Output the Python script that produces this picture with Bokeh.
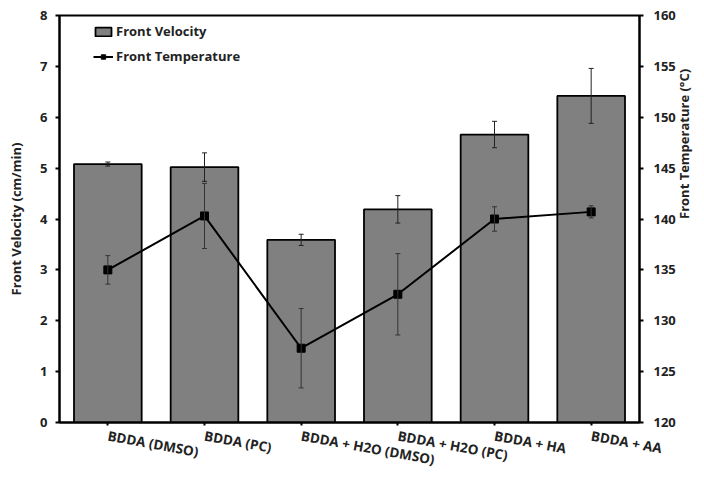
import math
from bokeh.plotting import figure
from bokeh.models import (ColumnDataSource, Range1d, LinearAxis, FixedTicker,
                          Whisker, TeeHead, Legend, LegendItem, FactorRange)
from bokeh.embed import file_html
from bokeh.resources import INLINE

# Formulations tested
categories = ["BDDA (DMSO)", "BDDA (PC)", "BDDA + H2O (DMSO)",
              "BDDA + H2O (PC)", "BDDA + HA", "BDDA + AA"]

# Front velocity (cm/min) with standard deviation
velocity = [5.08, 5.02, 3.59, 4.19, 5.66, 6.42]
velocity_err = [0.04, 0.28, 0.11, 0.27, 0.26, 0.54]

# Front temperature (°C) with standard deviation
temperature = [135.0, 140.3, 127.3, 132.6, 140.0, 140.7]
temperature_err = [1.4, 3.2, 3.9, 4.0, 1.2, 0.6]

FONT = "Open Sans"
TEXT = "#222222"

src = ColumnDataSource(dict(
    cat=categories,
    vel=velocity,
    vel_lo=[v - e for v, e in zip(velocity, velocity_err)],
    vel_hi=[v + e for v, e in zip(velocity, velocity_err)],
    temp=temperature,
    temp_lo=[t - e for t, e in zip(temperature, temperature_err)],
    temp_hi=[t + e for t, e in zip(temperature, temperature_err)],
))

p = figure(width=704, height=480, x_range=FactorRange(*categories, range_padding=0),
           y_range=Range1d(0, 8), output_backend="svg", toolbar_location=None,
           min_border_left=59, min_border_right=63, min_border_top=15,
           min_border_bottom=58)
p.extra_y_ranges = {"temp": Range1d(120, 160)}

p.grid.visible = False
p.outline_line_color = "black"
p.outline_line_width = 2
p.background_fill_color = "white"
p.border_fill_color = "white"

bars = p.vbar(x="cat", top="vel", width=0.70, source=src,
              fill_color="#808080", line_color="black", line_width=1.8)

p.add_layout(Whisker(base="cat", lower="vel_lo", upper="vel_hi", source=src,
                     level="overlay", line_color="#222222", line_width=1,
                     upper_head=TeeHead(size=5, line_color="#222222", line_width=1),
                     lower_head=TeeHead(size=5, line_color="#222222", line_width=1)))

line = p.line(x="cat", y="temp", source=src, y_range_name="temp",
              line_color="black", line_width=2)
marks = p.scatter(x="cat", y="temp", source=src, y_range_name="temp",
                  marker="square", size=8, fill_color="black", line_color="black")

p.add_layout(Whisker(base="cat", lower="temp_lo", upper="temp_hi", source=src,
                     y_range_name="temp", level="overlay",
                     line_color="#333333", line_width=1,
                     upper_head=TeeHead(size=5, line_color="#333333", line_width=1),
                     lower_head=TeeHead(size=5, line_color="#333333", line_width=1)))

right = LinearAxis(y_range_name="temp", axis_label="Front Temperature (°C)",
                   ticker=FixedTicker(ticks=list(range(120, 161, 5))))
p.add_layout(right, "right")
# right-hand title reads bottom to top, like the left one
if "axis_label_orientation" in right.properties():
    right.axis_label_orientation = math.pi / 2

p.yaxis[0].ticker = FixedTicker(ticks=list(range(0, 9)))
p.yaxis[0].axis_label = "Front Velocity (cm/min)"

for ax in p.yaxis + p.xaxis:
    ax.axis_line_color = "black"
    ax.axis_line_width = 2
    ax.major_tick_line_color = "black"
    ax.major_tick_line_width = 2
    ax.major_tick_out = 4
    ax.major_tick_in = 0
    ax.minor_tick_line_color = None
    ax.major_label_text_font = FONT
    ax.major_label_text_font_style = "bold"
    ax.major_label_text_font_size = "13px"
    ax.major_label_text_color = TEXT
    ax.axis_label_text_font = FONT
    ax.axis_label_text_font_style = "bold"
    ax.axis_label_text_font_size = "13px"
    ax.axis_label_text_color = TEXT

p.yaxis[0].major_label_standoff = 8
p.yaxis[0].axis_label_standoff = 12
right.major_label_standoff = 10
right.axis_label_standoff = 5

p.xaxis.major_label_orientation = -0.18
p.xaxis.major_label_text_font_size = "13.5px"
p.xaxis.major_label_standoff = 10
p.xaxis.major_tick_out = 3

legend = Legend(items=[
    LegendItem(label="Front Velocity", renderers=[bars]),
    LegendItem(label="Front Temperature", renderers=[line, marks]),
], location=(34, 357))
legend.background_fill_alpha = 0
legend.border_line_color = None
legend.label_text_font = FONT
legend.label_text_font_style = "bold"
legend.label_text_font_size = "13px"
legend.label_text_color = TEXT
legend.glyph_width = 20
legend.glyph_height = 11
legend.label_standoff = 3
legend.spacing = 7
legend.margin = 0
legend.padding = 0
p.add_layout(legend)

open("out.html", "w").write(file_html(p, INLINE))
